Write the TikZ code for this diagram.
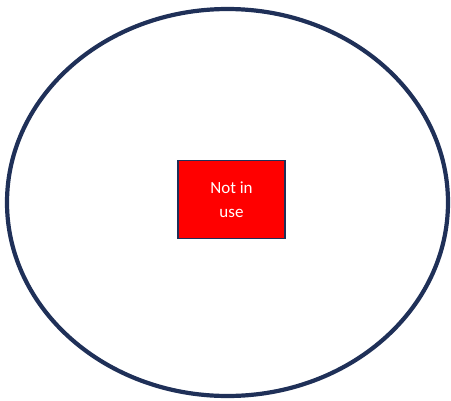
\documentclass[tikz,border=0pt]{standalone}
\usepackage{fontspec}
\setmainfont{Carlito}
\usepackage{tikz}
\usetikzlibrary{positioning,shapes.geometric}
\definecolor{NavyLine}{RGB}{31,48,88}
\definecolor{AlarmRed}{RGB}{255,0,0}

\begin{document}
\begin{tikzpicture}[
    x=1pt, y=-1pt,
    zone/.style   = {ellipse, draw=NavyLine, line width=4.2pt,
                     minimum width=441pt, minimum height=387pt,
                     inner sep=0pt},
    unused/.style = {rectangle, draw=NavyLine, line width=1.8pt,
                     fill=AlarmRed, text=white,
                     minimum width=107pt, minimum height=78pt,
                     font=\fontsize{17}{24}\selectfont, align=center},
]
\useasboundingbox (0,0) rectangle (451,400);

% ─── Outer zone ─────────────────────────────────────────────────────────
\node[zone] (area) at (227.5,202.5) {};

% ─── Status box ─────────────────────────────────────────────────────────
\node[unused] (status) at (231.5,199.5) {Not in\\use};

\end{tikzpicture}
\end{document}
